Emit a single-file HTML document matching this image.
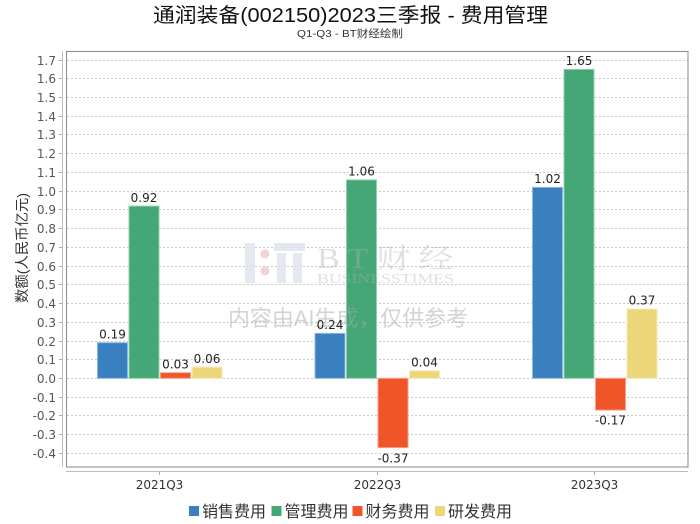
<!DOCTYPE html>
<html>
<head>
<meta charset="utf-8">
<style>
  html, body { margin:0; padding:0; background:#fff; }
  svg { display:block; }
  .tick { font-family:"DejaVu Sans","Liberation Sans",sans-serif; font-size:12px; fill:#555; }
  .val { font-family:"DejaVu Sans","Liberation Sans",sans-serif; font-size:12px; fill:#222; }
  .cjk { font-family:"Liberation Sans","Noto Sans CJK SC",sans-serif; }
  .serif { font-family:"Liberation Serif","Noto Serif CJK SC",serif; }
</style>
</head>
<body>
<svg width="700" height="524" viewBox="0 0 700 524" xmlns="http://www.w3.org/2000/svg">
  <rect x="0" y="0" width="700" height="524" fill="#fff"/>

  <!-- Title -->
  <text x="350.5" y="22" text-anchor="middle" class="cjk" font-size="20" fill="#111" textLength="395" lengthAdjust="spacingAndGlyphs">通润装备(002150)2023三季报 - 费用管理</text>
  <text x="350" y="37" text-anchor="middle" class="cjk" font-size="10.5" fill="#333" textLength="106" lengthAdjust="spacingAndGlyphs">Q1-Q3 - BT财经绘制</text>

  <!-- Gridlines -->
  <g stroke="#c9c9c9" stroke-width="1" stroke-dasharray="2,2">
    <line x1="67" x2="688" y1="60.5" y2="60.5"/>
    <line x1="67" x2="688" y1="78.5" y2="78.5"/>
    <line x1="67" x2="688" y1="97.5" y2="97.5"/>
    <line x1="67" x2="688" y1="116.5" y2="116.5"/>
    <line x1="67" x2="688" y1="134.5" y2="134.5"/>
    <line x1="67" x2="688" y1="153.5" y2="153.5"/>
    <line x1="67" x2="688" y1="172.5" y2="172.5"/>
    <line x1="67" x2="688" y1="191.5" y2="191.5"/>
    <line x1="67" x2="688" y1="209.5" y2="209.5"/>
    <line x1="67" x2="688" y1="228.5" y2="228.5"/>
    <line x1="67" x2="688" y1="247.5" y2="247.5"/>
    <line x1="67" x2="688" y1="266.5" y2="266.5"/>
    <line x1="67" x2="688" y1="284.5" y2="284.5"/>
    <line x1="67" x2="688" y1="303.5" y2="303.5"/>
    <line x1="67" x2="688" y1="322.5" y2="322.5"/>
    <line x1="67" x2="688" y1="341.5" y2="341.5"/>
    <line x1="67" x2="688" y1="359.5" y2="359.5"/>
    <line x1="67" x2="688" y1="378.5" y2="378.5"/>
    <line x1="67" x2="688" y1="397.5" y2="397.5"/>
    <line x1="67" x2="688" y1="415.5" y2="415.5"/>
    <line x1="67" x2="688" y1="434.5" y2="434.5"/>
    <line x1="67" x2="688" y1="453.5" y2="453.5"/>
  </g>

  <!-- Bars -->
  <g stroke-width="1">
    <!-- 2021Q3 -->
    <rect x="97.5" y="342.7" width="30" height="35.6" fill="#3a7fc0" stroke="#8db8df"/>
    <rect x="129" y="206.1" width="30" height="172.2" fill="#45a775" stroke="#8fd0ae"/>
    <rect x="160.5" y="372.7" width="30" height="5.6" fill="#ef5529" stroke="#f7a088"/>
    <rect x="192" y="367.1" width="30" height="11.2" fill="#ecd67a" stroke="#f6e9b4"/>
    <!-- 2022Q3 -->
    <rect x="315" y="333.4" width="30" height="44.9" fill="#3a7fc0" stroke="#8db8df"/>
    <rect x="346.5" y="179.9" width="30" height="198.4" fill="#45a775" stroke="#8fd0ae"/>
    <rect x="378" y="378.3" width="30" height="69.3" fill="#ef5529" stroke="#f7a088"/>
    <rect x="409.5" y="370.8" width="30" height="7.5" fill="#ecd67a" stroke="#f6e9b4"/>
    <!-- 2023Q3 -->
    <rect x="532.5" y="187.4" width="30" height="190.9" fill="#3a7fc0" stroke="#8db8df"/>
    <rect x="564" y="69.4" width="30" height="308.9" fill="#45a775" stroke="#8fd0ae"/>
    <rect x="595.5" y="378.3" width="30" height="31.8" fill="#ef5529" stroke="#f7a088"/>
    <rect x="627" y="309.0" width="30" height="69.3" fill="#ecd67a" stroke="#f6e9b4"/>
  </g>

  <!-- Watermark (semi-transparent, over bars) -->
  <g>
    <rect x="245" y="243" width="10" height="40" fill="#dfe5ee" fill-opacity="0.85"/>
    <circle cx="265" cy="254" r="4.5" fill="#f0cccc" fill-opacity="0.85"/>
    <circle cx="265" cy="271" r="4.5" fill="#f0cccc" fill-opacity="0.85"/>
    <rect x="274" y="243" width="31" height="8" fill="#dfe5ee" fill-opacity="0.85"/>
    <rect x="277" y="253" width="9" height="30" fill="#dfe5ee" fill-opacity="0.85"/>
    <rect x="293" y="253" width="9" height="30" fill="#dfe5ee" fill-opacity="0.85"/>
    <text x="317" y="268" class="serif" font-size="28" fill="#b0b0b0" fill-opacity="0.4" textLength="136" lengthAdjust="spacingAndGlyphs">B T 财 经</text>
    <text x="317" y="283" class="serif" font-size="14" fill="#b0b0b0" fill-opacity="0.4" textLength="137" lengthAdjust="spacingAndGlyphs">BUSINESSTIMES</text>
    <text x="228" y="326" class="cjk" font-size="22" fill="#a8a8a8" fill-opacity="0.5" textLength="240" lengthAdjust="spacingAndGlyphs">内容由AI生成，仅供参考</text>
  </g>

  <!-- Value labels -->
  <g class="val" text-anchor="middle">
    <text x="112.5" y="338.5">0.19</text>
    <text x="144" y="202">0.92</text>
    <text x="175.5" y="368.5">0.03</text>
    <text x="207" y="363">0.06</text>

    <text x="330" y="329">0.24</text>
    <text x="361.5" y="175.5">1.06</text>
    <text x="393" y="462.5">-0.37</text>
    <text x="424.5" y="366.5">0.04</text>

    <text x="547.5" y="183">1.02</text>
    <text x="579" y="65">1.65</text>
    <text x="610.5" y="424.5">-0.17</text>
    <text x="642" y="304.5">0.37</text>
  </g>

  <!-- Plot frame -->
  <rect x="66.5" y="51.5" width="621.5" height="415.5" fill="none" stroke="#8a8a8a" stroke-width="1"/>

  <!-- Axis lines -->
  <line x1="62.5" y1="51" x2="62.5" y2="467" stroke="#bdbdbd" stroke-width="1"/>
  <line x1="66" y1="471.5" x2="688" y2="471.5" stroke="#bdbdbd" stroke-width="1"/>
  <g stroke="#aaa" stroke-width="1">
    <line x1="59" x2="62" y1="60.5" y2="60.5"/>
    <line x1="59" x2="62" y1="78.5" y2="78.5"/>
    <line x1="59" x2="62" y1="97.5" y2="97.5"/>
    <line x1="59" x2="62" y1="116.5" y2="116.5"/>
    <line x1="59" x2="62" y1="134.5" y2="134.5"/>
    <line x1="59" x2="62" y1="153.5" y2="153.5"/>
    <line x1="59" x2="62" y1="172.5" y2="172.5"/>
    <line x1="59" x2="62" y1="191.5" y2="191.5"/>
    <line x1="59" x2="62" y1="209.5" y2="209.5"/>
    <line x1="59" x2="62" y1="228.5" y2="228.5"/>
    <line x1="59" x2="62" y1="247.5" y2="247.5"/>
    <line x1="59" x2="62" y1="266.5" y2="266.5"/>
    <line x1="59" x2="62" y1="284.5" y2="284.5"/>
    <line x1="59" x2="62" y1="303.5" y2="303.5"/>
    <line x1="59" x2="62" y1="322.5" y2="322.5"/>
    <line x1="59" x2="62" y1="341.5" y2="341.5"/>
    <line x1="59" x2="62" y1="359.5" y2="359.5"/>
    <line x1="59" x2="62" y1="378.5" y2="378.5"/>
    <line x1="59" x2="62" y1="397.5" y2="397.5"/>
    <line x1="59" x2="62" y1="415.5" y2="415.5"/>
    <line x1="59" x2="62" y1="434.5" y2="434.5"/>
    <line x1="59" x2="62" y1="453.5" y2="453.5"/>
    <line x1="159.5" x2="159.5" y1="472" y2="475"/>
    <line x1="377.5" x2="377.5" y1="472" y2="475"/>
    <line x1="594.5" x2="594.5" y1="472" y2="475"/>
  </g>

  <!-- Y tick labels -->
  <g class="tick" text-anchor="end">
    <text x="56" y="65">1.7</text>
    <text x="56" y="83">1.6</text>
    <text x="56" y="102">1.5</text>
    <text x="56" y="121">1.4</text>
    <text x="56" y="139">1.3</text>
    <text x="56" y="158">1.2</text>
    <text x="56" y="177">1.1</text>
    <text x="56" y="196">1.0</text>
    <text x="56" y="214">0.9</text>
    <text x="56" y="233">0.8</text>
    <text x="56" y="252">0.7</text>
    <text x="56" y="271">0.6</text>
    <text x="56" y="289">0.5</text>
    <text x="56" y="308">0.4</text>
    <text x="56" y="327">0.3</text>
    <text x="56" y="346">0.2</text>
    <text x="56" y="364">0.1</text>
    <text x="56" y="383">0.0</text>
    <text x="56" y="402">-0.1</text>
    <text x="56" y="420">-0.2</text>
    <text x="56" y="439">-0.3</text>
    <text x="56" y="458">-0.4</text>
  </g>

  <!-- Y axis title -->
  <text transform="translate(27,248) rotate(-90)" text-anchor="middle" class="cjk" font-size="14" fill="#333" textLength="110" lengthAdjust="spacingAndGlyphs">数额(人民币亿元)</text>

  <!-- X labels -->
  <g class="tick" text-anchor="middle" style="fill:#333">
    <text x="159.5" y="489">2021Q3</text>
    <text x="377.5" y="489">2022Q3</text>
    <text x="594.5" y="489">2023Q3</text>
  </g>

  <!-- Legend -->
  <g class="cjk" font-size="16" fill="#333">
    <rect x="189" y="506" width="10" height="10" fill="#3a7fc0"/>
    <text x="202" y="517" textLength="64" lengthAdjust="spacingAndGlyphs">销售费用</text>
    <rect x="271.5" y="506" width="10" height="10" fill="#45a775"/>
    <text x="284.5" y="517" textLength="64" lengthAdjust="spacingAndGlyphs">管理费用</text>
    <rect x="352.5" y="506" width="10" height="10" fill="#ef5529"/>
    <text x="365.5" y="517" textLength="64" lengthAdjust="spacingAndGlyphs">财务费用</text>
    <rect x="435" y="506" width="10" height="10" fill="#ecd67a"/>
    <text x="448" y="517" textLength="64" lengthAdjust="spacingAndGlyphs">研发费用</text>
  </g>
</svg>
</body>
</html>
